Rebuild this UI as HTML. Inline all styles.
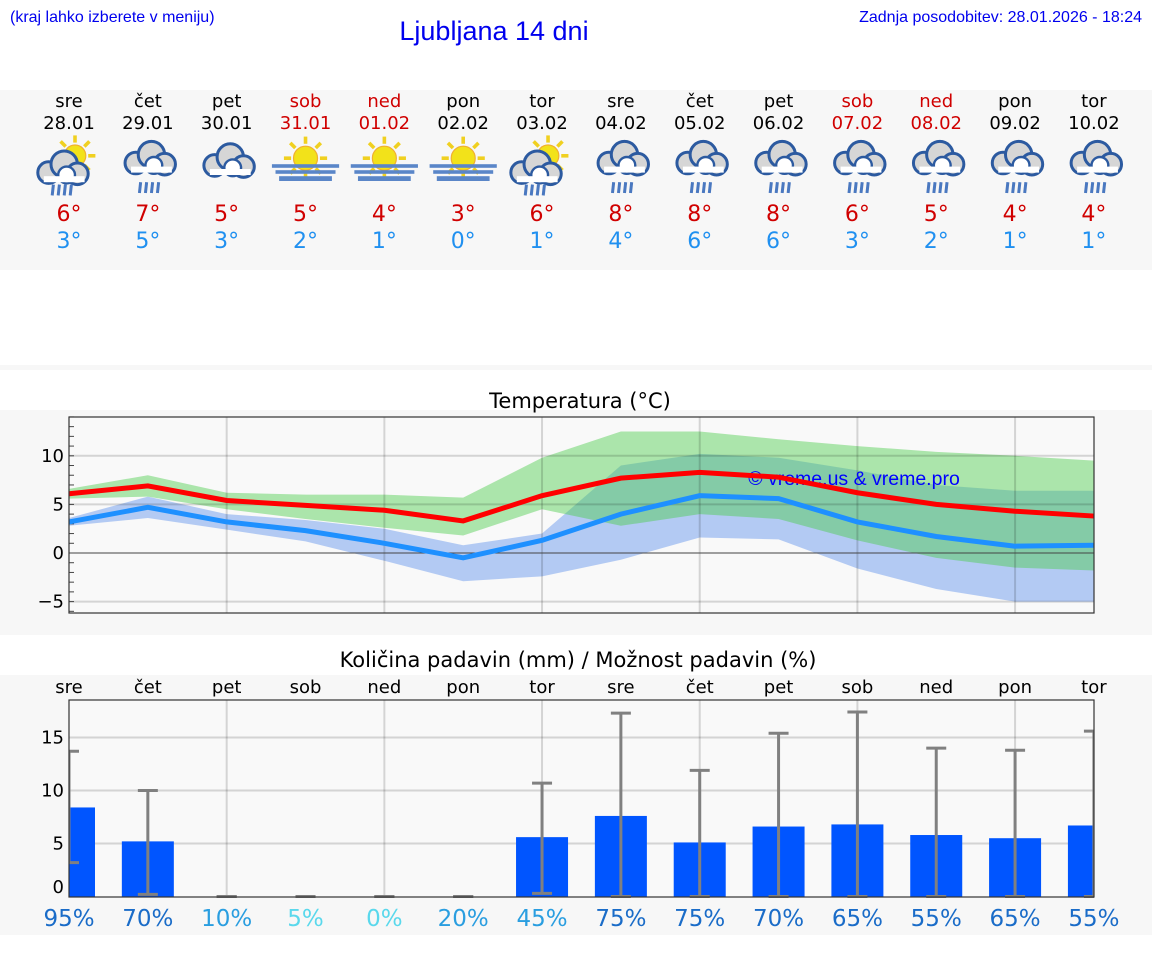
<!DOCTYPE html>
<html><head><meta charset="utf-8"><style>
body{margin:0;width:1152px;height:975px;background:#fff;font-family:"DejaVu Sans","Liberation Sans",sans-serif;overflow:hidden}
</style></head><body>
<svg id="s" width="1152" height="975" xmlns="http://www.w3.org/2000/svg" font-family="DejaVu Sans, Liberation Sans, sans-serif"></svg>
<script>
const X=i=>69+78.84*i;
let h='';
h+='<rect x="0" y="90" width="1152" height="180" fill="#f7f7f7"/>';
h+='<rect x="0" y="365" width="1152" height="5" fill="#f7f7f7"/>';
h+='<rect x="0" y="410" width="1152" height="225" fill="#f7f7f7"/>';
h+='<rect x="0" y="675" width="1152" height="260" fill="#f7f7f7"/>';
h+='<text x="10" y="22" font-size="16" fill="#0000ee" font-family="Liberation Sans,sans-serif">(kraj lahko izberete v meniju)</text>';
h+='<text x="1142" y="22" font-size="16" fill="#0000ee" text-anchor="end" font-family="Liberation Sans,sans-serif">Zadnja posodobitev: 28.01.2026 - 18:24</text>';
h+='<text x="494" y="40" font-size="27" fill="#0000ee" text-anchor="middle" font-family="Liberation Sans,sans-serif">Ljubljana 14 dni</text>';
const days=['sre','čet','pet','sob','ned','pon','tor','sre','čet','pet','sob','ned','pon','tor'];
const dates=['28.01','29.01','30.01','31.01','01.02','02.02','03.02','04.02','05.02','06.02','07.02','08.02','09.02','10.02'];
const hi=[6,7,5,5,4,3,6,8,8,8,6,5,4,4],lo=[3,5,3,2,1,0,1,4,6,6,3,2,1,1];
const icons=['sr','r','c','f','f','f','sr','r','r','r','r','r','r','r'];
function cloud(cx,cy){return `<g stroke="#2c5aa0" stroke-width="2.5" fill="#d6d6d6"><circle cx="${cx-12}" cy="${cy+2}" r="9"/><circle cx="${cx+1}" cy="${cy-5}" r="11"/><circle cx="${cx+12}" cy="${cy+3}" r="9"/></g><g fill="#fff" stroke="#2c5aa0" stroke-width="2"><circle cx="${cx+3}" cy="${cy+4}" r="7"/></g><rect x="${cx-16}" y="${cy+5}" width="34" height="5" fill="#fff"/>`}
function rain(cx,cy){let s='';for(let k=0;k<4;k++)s+=`<line x1="${cx-8+k*5}" y1="${cy}" x2="${cx-9+k*5}" y2="${cy+9}" stroke="#4a78c0" stroke-width="2.5"/>`;return s}
function sun(cx,cy,r){let s='';for(let k=0;k<8;k++){let a=k*Math.PI/4;s+=`<line x1="${cx+Math.cos(a)*(r+2)}" y1="${cy+Math.sin(a)*(r+2)}" x2="${cx+Math.cos(a)*(r+8)}" y2="${cy+Math.sin(a)*(r+8)}" stroke="#f0d020" stroke-width="3"/>`}return s+`<circle cx="${cx}" cy="${cy}" r="${r}" fill="#f2e21a" stroke="#f0b030" stroke-width="1"/>`}
for(let i=0;i<14;i++){
 const x=X(i),we=(i==3||i==4||i==10||i==11);
 h+=`<text x="${x}" y="107" font-size="18" text-anchor="middle" fill="${we?'#d00000':'#000'}">${days[i]}</text>`;
 h+=`<text x="${x}" y="129" font-size="18" text-anchor="middle" fill="${we?'#d00000':'#000'}">${dates[i]}</text>`;
 h+=`<text x="${x}" y="221" font-size="22" text-anchor="middle" fill="#d00000">${hi[i]}°</text>`;
 h+=`<text x="${x}" y="248" font-size="22" text-anchor="middle" fill="#2090f0">${lo[i]}°</text>`;
 const t=icons[i];let g='';const cx=0,cy=0;
 if(t=='sr'){g=sun(cx+5,cy-6,9)+cloud(cx-5,cy+6)+rain(cx-5,cy+18);}
 else if(t=='r'){g=cloud(cx+2,cy-2)+rain(cx+2,cy+16);}
 else if(t=='c'){g=cloud(cx+2,cy);}
 else {g=sun(cx,cy-4,10)+`<rect x="${cx-28}" y="${cy+1}" width="56" height="3" fill="#5a86c8"/><rect x="${cx-25}" y="${cy+6}" width="50" height="3" fill="#5a86c8"/><rect x="${cx-22}" y="${cy+11}" width="44" height="4" fill="#5a86c8"/>`;}
 h+=`<g transform="translate(${x},163) scale(1.2)">${g}</g>`;
}
const Y=v=>553-9.72*v;
h+='<text x="580" y="408" font-size="21" text-anchor="middle" fill="#000">Temperatura (°C)</text>';
h+='<rect x="69" y="417" width="1025" height="196" fill="#f9f9f9"/>';
const poly=(up,dn,c,o)=>{let p=up.map((v,i)=>X(i)+','+Y(v));for(let i=dn.length-1;i>=0;i--)p.push(X(i)+','+Y(dn[i]));return `<polygon points="${p.join(' ')}" fill="${c}" fill-opacity="${o}"/>`};
const gU=[6.6,8.0,6.2,6.0,6.0,5.7,9.8,12.5,12.5,11.7,11.0,10.4,10.0,9.5],gL=[5.6,5.8,4.5,3.5,2.6,1.8,4.5,2.8,4.0,3.5,1.3,-0.5,-1.5,-1.8];
const bU=[3.6,5.8,4.0,3.4,2.5,0.8,2.0,9.0,10.2,9.8,8.5,7.0,6.4,6.4],bL=[2.8,3.6,2.4,1.2,-0.8,-2.9,-2.4,-0.7,1.6,1.4,-1.6,-3.7,-5.0,-5.0];
h+=poly(bU,bL,'#7aa4ee',0.55)+poly(gU,gL,'#4ccd4c',0.45);
for(const v of [10,5,-5])h+=`<line x1="69" x2="1094" y1="${Y(v)}" y2="${Y(v)}" stroke="#000" stroke-opacity="0.15" stroke-width="2"/>`;
for(let i=2;i<14;i+=2)h+=`<line x1="${X(i)}" x2="${X(i)}" y1="417" y2="613" stroke="#000" stroke-opacity="0.15" stroke-width="2"/>`;
h+=`<line x1="69" x2="1094" y1="${Y(0)}" y2="${Y(0)}" stroke="#444" stroke-width="1"/>`;
for(let v=-6;v<=14;v++)h+=`<line x1="69" x2="74" y1="${Y(v)}" y2="${Y(v)}" stroke="#444" stroke-width="1"/>`;
const red=[6.1,6.9,5.4,4.9,4.4,3.3,5.9,7.7,8.3,7.8,6.2,5.0,4.3,3.8],blu=[3.2,4.7,3.2,2.3,1.0,-0.5,1.3,4.0,5.9,5.6,3.2,1.7,0.7,0.8];
h+=`<text x="854" y="485" font-size="19.5" text-anchor="middle" fill="#0000ff" font-family="Liberation Sans,sans-serif">© vreme.us &amp; vreme.pro</text>`;
h+=`<polyline points="${blu.map((v,i)=>X(i)+','+Y(v)).join(' ')}" fill="none" stroke="#1e90ff" stroke-width="5"/>`;
h+=`<polyline points="${red.map((v,i)=>X(i)+','+Y(v)).join(' ')}" fill="none" stroke="#ff0000" stroke-width="5"/>`;
h+='<rect x="69" y="417" width="1025" height="196" fill="none" stroke="#333" stroke-width="1.2"/>';
[[10,'10'],[5,'5'],[0,'0'],[-5,'−5']].forEach(([v,t])=>h+=`<text x="64" y="${Y(v)+6}" font-size="18" text-anchor="end">${t}</text>`);
const P=v=>896.5-10.6*v;
h+='<text x="578" y="667" font-size="21" text-anchor="middle" fill="#000">Količina padavin (mm) / Možnost padavin (%)</text>';
h+='<rect x="69" y="700" width="1025" height="197" fill="#f9f9f9"/>';
for(const v of [15,10,5])h+=`<line x1="69" x2="1094" y1="${P(v)}" y2="${P(v)}" stroke="#000" stroke-opacity="0.15" stroke-width="2"/>`;
for(let i=2;i<14;i+=2)h+=`<line x1="${X(i)}" x2="${X(i)}" y1="700" y2="897" stroke="#000" stroke-opacity="0.15" stroke-width="2"/>`;
const pv=[8.4,5.2,0,0,0,0,5.6,7.6,5.1,6.6,6.8,5.8,5.5,6.7],et=[13.7,10.0,0,0,0,0,10.7,17.3,11.9,15.4,17.4,14.0,13.8,15.6],eb=[3.2,0.2,0,0,0,0,0.3,0,0,0,0,0,0,0];
const pc=['95%','70%','10%','5%','0%','20%','45%','75%','75%','70%','65%','55%','65%','55%'];
const pcol=['#1a6cc8','#1a6cc8','#2a9ee0','#5ad8ec','#5ad8ec','#2a9ee0','#2a9ee0','#1a6cc8','#1a6cc8','#1a6cc8','#1a6cc8','#1a6cc8','#1a6cc8','#1a6cc8'];
let bars='',errs='';
for(let i=0;i<14;i++){const x=X(i);
 if(pv[i]>0)bars+=`<rect x="${x-26}" y="${P(pv[i])}" width="52" height="${896.5-P(pv[i])}" fill="#0055ff"/>`;
 errs+=`<line x1="${x}" x2="${x}" y1="${P(et[i])}" y2="${P(eb[i])}" stroke="#808080" stroke-width="3"/><line x1="${x-10}" x2="${x+10}" y1="${P(et[i])}" y2="${P(et[i])}" stroke="#808080" stroke-width="3"/><line x1="${x-10}" x2="${x+10}" y1="${P(eb[i])}" y2="${P(eb[i])}" stroke="#808080" stroke-width="3"/>`;
 h+=`<text x="${x}" y="693" font-size="18" text-anchor="middle">${days[i]}</text>`;
 h+=`<text x="${x}" y="926" font-size="23" text-anchor="middle" fill="${pcol[i]}">${pc[i]}</text>`;
}
h+=`<svg x="69" y="690" width="1025" height="215" viewBox="69 690 1025 215">${bars}${errs}</svg>`;
h+='<rect x="69" y="700" width="1025" height="197" fill="none" stroke="#333" stroke-width="1.2"/>';
[[15,'15'],[10,'10'],[5,'5']].forEach(([v,t])=>h+=`<text x="64" y="${P(v)+6}" font-size="18" text-anchor="end">${t}</text>`);
h+=`<text x="64" y="893" font-size="18" text-anchor="end">0</text>`;
document.getElementById('s').innerHTML=h;
</script>
</body></html>
